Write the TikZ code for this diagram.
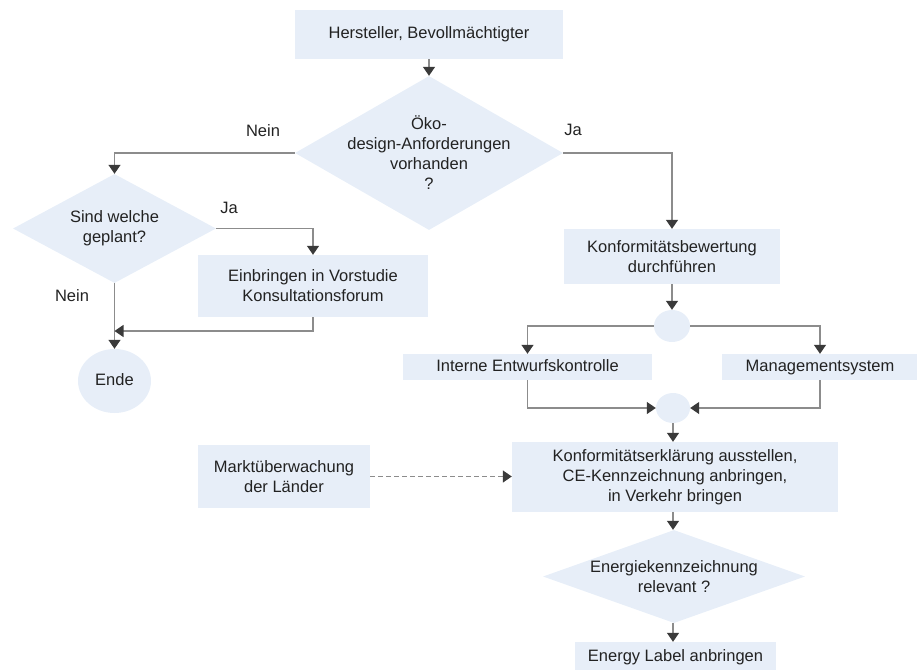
\documentclass[tikz,border=0pt]{standalone}
\usepackage{fontspec}
\setmainfont{Liberation Sans}
\usetikzlibrary{shapes.geometric,arrows.meta}
\definecolor{boxfill}{HTML}{E7EEF8}
\definecolor{linec}{HTML}{8C8C8C}
\definecolor{tipc}{HTML}{3A3A3A}
\definecolor{txt}{HTML}{222222}
\begin{document}
\begin{tikzpicture}[x=1pt,y=-1pt,
  font=\fontsize{16.5}{20}\selectfont, text=txt,
  box/.style={rectangle, fill=boxfill, draw=none, align=center, inner sep=0pt},
  dia/.style={diamond, fill=boxfill, draw=none, inner sep=0pt, aspect=1.6},
  oval/.style={ellipse, fill=boxfill, draw=none, inner sep=0pt, align=center},
  lbl/.style={inner sep=0pt},
  arr/.style={draw=linec, line width=1.3pt, -{Triangle[width=12pt,length=9pt,color=tipc]}},
  dasharr/.style={arr, dash pattern=on 5pt off 3pt}
]
\useasboundingbox (0,0) rectangle (917,669);

% nodes
\node[box, minimum width=268, minimum height=49] (hst) at (429,34.5) {\strut Hersteller, Bevollmächtigter};
\node[dia, minimum width=268, minimum height=154,
      label={[align=center,lbl]center:Öko-\\design-Anforderungen\\vorhanden\\?}] (d1) at (429,153) {};
\node[dia, minimum width=203, minimum height=109,
      label={[align=center,lbl]center:Sind welche\\geplant?}] (d2) at (114.5,228.5) {};
\node[box, minimum width=230, minimum height=62] (ein) at (313,286) {Einbringen in Vorstudie\\Konsultationsforum};
\node[oval, minimum width=73, minimum height=64] (ende) at (114.5,381) {\strut Ende};
\node[box, minimum width=216, minimum height=55] (kb) at (672,256.5) {Konformitätsbewertung\\durchführen};
\node[oval, minimum width=36, minimum height=32] (e1) at (672,326) {};
\node[box, minimum width=249, minimum height=26] (int) at (527.5,367) {\strut Interne Entwurfskontrolle};
\node[box, minimum width=196, minimum height=26] (mg) at (820,367) {\strut Managementsystem};
\node[oval, minimum width=34, minimum height=30] (e2) at (673,408) {};
\node[box, minimum width=326, minimum height=70] (kerk) at (675,477) {Konformitätserklärung ausstellen,\\CE-Kennzeichnung anbringen,\\in Verkehr bringen};
\node[box, minimum width=172, minimum height=63] (markt) at (284,476.5) {Marktüberwachung\\der Länder};
\node[dia, minimum width=262, minimum height=93,
      label={[align=center,lbl]center:Energiekennzeichnung\\relevant ?}] (d3) at (674,576.5) {};
\node[box, minimum width=201, minimum height=30] (en) at (675.5,657) {\strut Energy Label anbringen};

% labels
\node[lbl] (l1) at (263,131) {Nein};
\node[lbl] (l2) at (573,130) {Ja};
\node[lbl] (l3) at (229,208) {Ja};
\node[lbl] (l4) at (72,296) {Nein};

\coordinate (j1) at (114.5,331);

% connectors
\draw[arr] (hst.south) -- (d1.north);
\draw[arr] (d1.west) -| (d2.north);
\draw[arr] (d1.east) -| (kb.north);
\draw[arr] (d2.east) -| (ein.north);
\draw[arr] (d2.south) -- (ende.north);
\draw[arr] (ein.south) |- (j1);
\draw[arr] (kb.south) -- (kb.south |- e1.north);
\draw[arr] (e1.west) -| (int.north);
\draw[arr] (e1.east) -| (mg.north);
\draw[arr] (int.south) |- (e2.west);
\draw[arr] (mg.south) |- (e2.east);
\draw[arr] (e2.south) -- (e2.south |- kerk.north);
\draw[dasharr] (markt.east) -- (markt.east -| kerk.west);
\draw[arr] (e2.south |- kerk.south) -- (e2.south |- d3.north);
\draw[arr] (e2.south |- d3.south) -- (e2.south |- en.north);
\end{tikzpicture}
\end{document}
